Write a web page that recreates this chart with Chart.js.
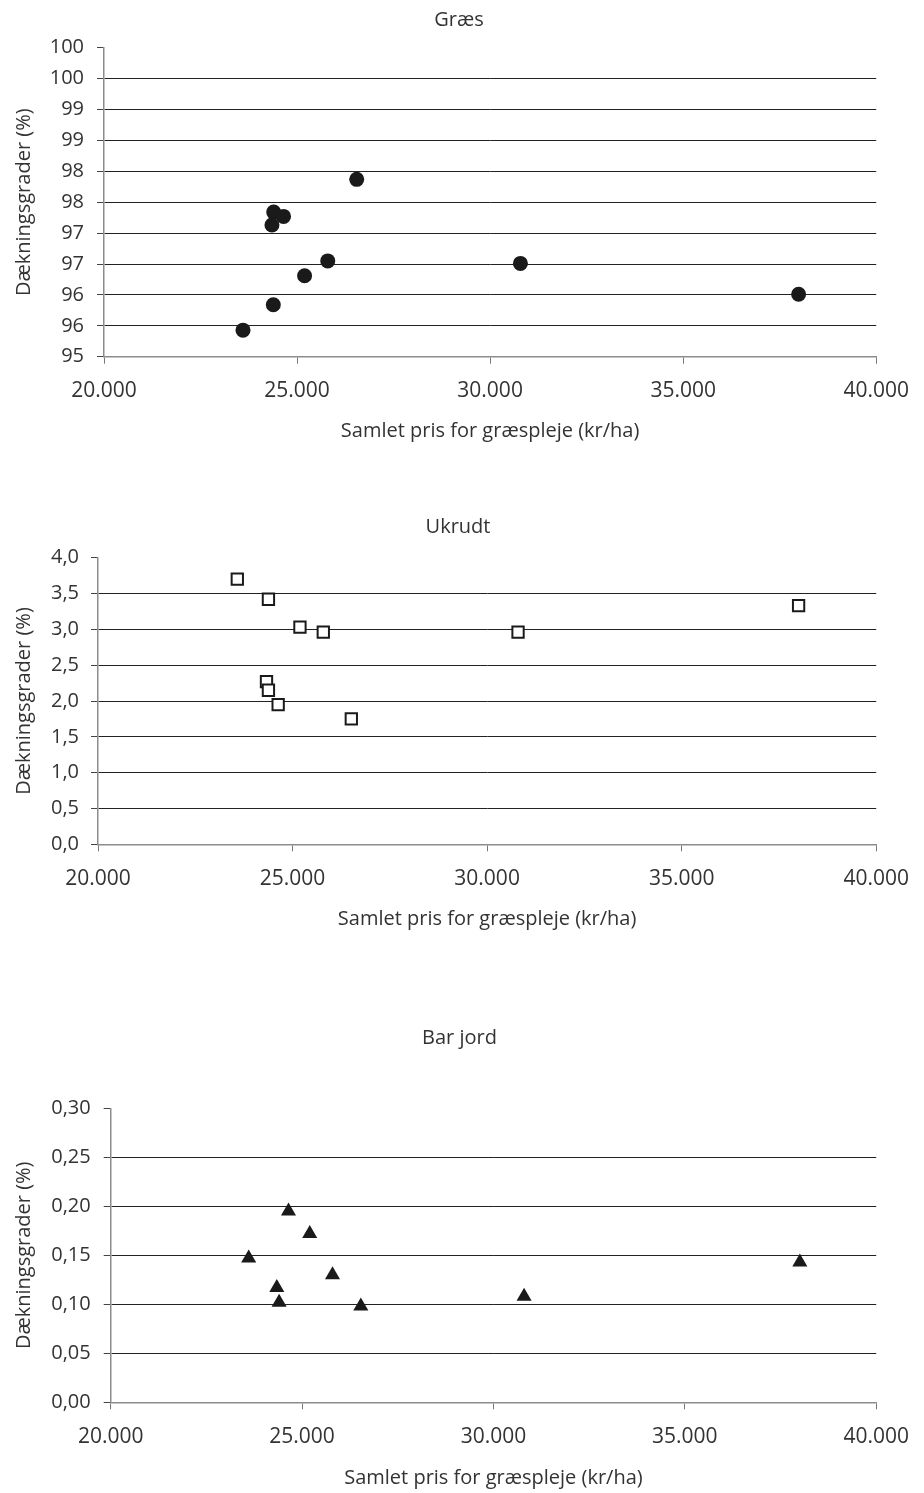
<!DOCTYPE html>
<html>
<head>
<meta charset="utf-8">
<script src="https://cdn.jsdelivr.net/npm/chart.js@4"></script>
<style>
  body { margin: 0; background: #fff; }
  canvas { position: absolute; left: 0; }
</style>
</head>
<body>
<canvas id="graes" width="924" height="470" style="top:0px"></canvas>
<canvas id="ukrudt" width="924" height="445" style="top:500px"></canvas>
<canvas id="barjord" width="924" height="493" style="top:1000px"></canvas>
<script>
// Samlet pris (kr/ha) og dækningsgrader (%)
const prisGraes = [23600, 24385, 25195, 25795, 24350, 24395, 24650, 26545, 30785, 37990];
const daekGraes = [95.43, 95.84, 96.31, 96.55, 97.13, 97.34, 97.27, 97.87, 96.51, 96.01];

const prisUkrudt = [23580, 24380, 25190, 25790, 24330, 24380, 24630, 26510, 30795, 38005];
const daekUkrudt = [3.70, 3.42, 3.03, 2.96, 2.27, 2.15, 1.95, 1.75, 2.96, 3.33];

const prisBarJord = [24645, 25200, 23605, 24340, 24400, 25795, 26535, 30800, 38005];
const daekBarJord = [0.195, 0.172, 0.147, 0.117, 0.102, 0.130, 0.098, 0.108, 0.143];

const titler = ['Græs', 'Ukrudt', 'Bar jord'];
const xTitel = 'Samlet pris for græspleje (kr/ha)';
const yTitel = 'Dækningsgrader (%)';

// akser: min, max, trin
const xAkse = [20000, 40000, 5000];
const yAkseGraes = [95, 100, 0.5];
const yAkseUkrudt = [0, 4, 0.5];
const yAkseBarJord = [0, 0.3, 0.05];

const tekstFarve = '#333';
const fontFamilie = "'Open Sans', sans-serif";

function tusind(v) {
  return String(v).replace(/\B(?=(\d{3})+(?!\d))/g, '.');
}

function lavGraf(id, titel, pris, daek, yAkse, yFormat, punkt, mål) {
  const ctx = document.getElementById(id).getContext('2d');
  return new Chart(ctx, {
    type: 'scatter',
    data: {
      datasets: [{
        data: pris.map((x, i) => ({ x: x, y: daek[i] })),
        pointStyle: punkt.stil,
        pointRadius: punkt.r,
        pointHoverRadius: punkt.r,
        backgroundColor: punkt.fyld,
        borderColor: '#1a1a1a',
        borderWidth: punkt.kant
      }]
    },
    options: {
      responsive: false,
      animation: false,
      // venstre padding holder titlen centreret på hele siden
      layout: { padding: { left: mål.venstrePad, right: mål.højre, top: 0, bottom: 0 } },
      plugins: {
        legend: { display: false },
        tooltip: { enabled: false },
        title: {
          display: true,
          text: titel,
          color: tekstFarve,
          font: { family: fontFamilie, size: 20, weight: 'normal' },
          padding: { top: mål.titelTop, bottom: mål.titelBund }
        }
      },
      scales: {
        x: {
          type: 'linear',
          min: xAkse[0],
          max: xAkse[1],
          afterFit: s => { s.height = mål.xHøjde; },
          ticks: {
            stepSize: xAkse[2],
            color: tekstFarve,
            font: { family: fontFamilie, size: 21 },
            padding: 15,
            maxRotation: 0,
            callback: v => tusind(v)
          },
          grid: {
            drawOnChartArea: false,
            drawTicks: true,
            tickLength: 7,
            tickColor: '#777'
          },
          border: { color: '#8c8c8c', width: 1.5 },
          title: {
            display: true,
            text: xTitel,
            color: tekstFarve,
            font: { family: fontFamilie, size: 20 },
            padding: { top: 0, bottom: mål.xTitelBund }
          }
        },
        y: {
          min: yAkse[0],
          max: yAkse[1],
          afterFit: s => { s.width = mål.venstre - mål.venstrePad; },
          ticks: {
            stepSize: yAkse[2],
            color: tekstFarve,
            font: { family: fontFamilie, size: 20 },
            padding: mål.yTickPad,
            callback: yFormat
          },
          grid: {
            color: c => (c.tick && (c.tick.value >= yAkse[1] - 1e-9 || c.tick.value <= yAkse[0] + 1e-9)) ? 'rgba(0,0,0,0)' : '#222',
            lineWidth: 1,
            tickLength: 7,
            tickColor: '#444'
          },
          border: { color: '#8c8c8c', width: 1.5 },
          title: {
            display: true,
            text: yTitel,
            color: tekstFarve,
            font: { family: fontFamilie, size: 20 },
            padding: { top: 12 - mål.venstrePad, bottom: 0 }
          }
        }
      }
    }
  });
}

lavGraf('graes', titler[0], prisGraes, daekGraes, yAkseGraes,
  v => String(Math.round(v)),
  { stil: 'circle', r: 7.5, fyld: '#1a1a1a', kant: 0 },
  { venstre: 104, venstrePad: 40, højre: 46, titelTop: 8, titelBund: 15.7, xHøjde: 113.3, xTitelBund: 27, yTickPad: 13 });

lavGraf('ukrudt', titler[1], prisUkrudt, daekUkrudt, yAkseUkrudt,
  v => v.toFixed(1).replace('.', ','),
  { stil: 'rect', r: 8, fyld: '#ffffff', kant: 2 },
  { venstre: 98, venstrePad: 36, højre: 44, titelTop: 15, titelBund: 18.7, xHøjde: 100.7, xTitelBund: 14, yTickPad: 12 });

lavGraf('barjord', titler[2], prisBarJord, daekBarJord, yAkseBarJord,
  v => v.toFixed(2).replace('.', ','),
  { stil: 'triangle', r: 8.7, fyld: '#1a1a1a', kant: 0 },
  { venstre: 110.7, venstrePad: 37.3, højre: 42.3, titelTop: 26, titelBund: 58.3, xHøjde: 90.7, xTitelBund: 3, yTickPad: 13 });
</script>
</body>
</html>
